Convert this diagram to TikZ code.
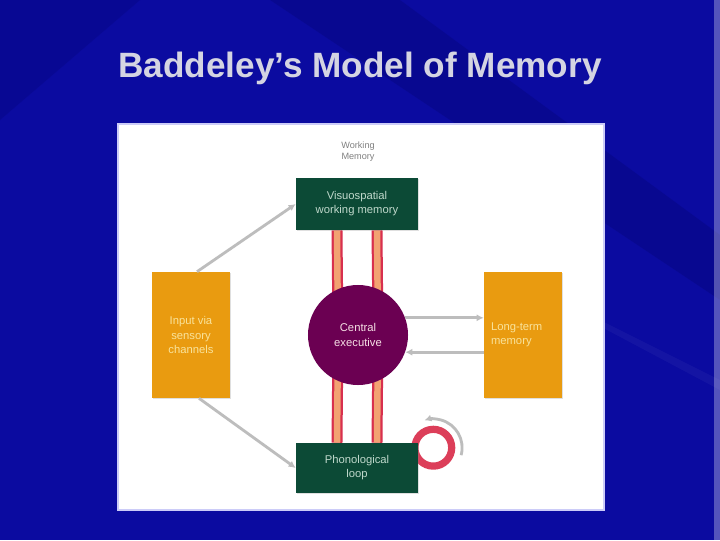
\documentclass[tikz,border=0pt]{standalone}
\usepackage{fontspec}
\setmainfont{Liberation Sans}
\usepackage{tikz}
\usetikzlibrary{arrows.meta, positioning, calc, backgrounds, shadows}
\definecolor{slideblue}{HTML}{0B0BA0}
\definecolor{slidedark}{HTML}{03036E}
\definecolor{titlegray}{HTML}{D4D4E2}
\definecolor{boxorange}{HTML}{E99B10}
\definecolor{boxgreen}{HTML}{0C4A36}
\definecolor{cepurple}{HTML}{6B0052}
\definecolor{pipered}{HTML}{D8304E}
\definecolor{pipeorange}{HTML}{F2A272}
\definecolor{linegray}{HTML}{BDBDBD}
\pgfdeclarelayer{slide}
\pgfsetlayers{slide,background,main}
\tikzset{
  boxtext/.style={font=\fontsize{8}{10}\selectfont, align=center, inner sep=2pt},
  greenbox/.style={boxtext, rectangle, fill=boxgreen, text=titlegray!90!green,
    minimum width=3.05cm, minimum height=1.3cm,
    drop shadow={shadow xshift=1pt, shadow yshift=-1pt, opacity=.25}},
  orangebox/.style={boxtext, rectangle, fill=boxorange, text=yellow!35!boxorange!40!white,
    minimum width=1.95cm, minimum height=3.15cm,
    drop shadow={shadow xshift=1pt, shadow yshift=-1pt, opacity=.25}},
  pipe/.style={draw=pipered, line width=1.6pt, double=pipeorange, double distance=4.6pt},
  link/.style={draw=linegray, line width=2pt, -{Latex[length=5pt, width=5pt]}},
}
\begin{document}
\begin{tikzpicture}[x=0.025cm, y=-0.025cm]
    \useasboundingbox (0,0) rectangle (720,540);
    \begin{pgfonlayer}{slide}
      % slide background
      \fill[slideblue] (0,0) rectangle (720,540);
      \fill[slidedark, opacity=.3] (270,0) -- (400,0) -- (720,235) -- (720,300) -- cycle;
      \fill[slidedark, opacity=.25] (0,0) -- (140,0) -- (0,120) -- cycle;
      \fill[white, opacity=.04] (560,300) -- (720,380) -- (720,390) -- (560,305) -- cycle;
      \fill[white, opacity=.3] (714,0) rectangle (720,540);
      % white panel
      \node[fill=white, draw=titlegray!60!blue!40, line width=1pt, inner sep=0pt,
        minimum width=12.15cm, minimum height=9.65cm] (panel) at (361,317) {};
    \end{pgfonlayer}
    \node[text=titlegray, font=\bfseries\fontsize{25}{30}\selectfont] (title) at (360,68) {Baddeley’s Model of Memory};
    \node[text=gray, font=\fontsize{6.5}{8}\selectfont, align=center] (wm) at (358,152) {Working\\Memory};

    % components
    \node[greenbox] (vsw) at (357,204) {Visuospatial\\working memory};
    \node[circle, fill=cepurple, text=pink!80!cepurple!30!white, minimum size=2.5cm,
      font=\fontsize{8}{10}\selectfont, align=center] (ce) at (358,335) {Central\\executive};
    \node[greenbox, minimum height=1.25cm] (pl) at (357,468) {Phonological\\loop};
    \node[orangebox] (inp) at (191,335) {Input via\\sensory\\channels};
    \node[orangebox, align=left, text width=1.6cm] (ltm) at (523,335) {Long-term\\memory\\[1.2em]};

    \begin{scope}[on background layer]
      % slave systems linked to the executive
      \foreach \dx in {-20, 20} {
        \draw[pipe] ($(vsw.south)+(\dx,0)$) -- ($(ce.center)+(\dx,0)$);
        \draw[pipe] ($(pl.north)+(\dx,0)$) -- ($(ce.center)+(\dx,0)$);
      }
      % rehearsal loop
      \coordinate (loopc) at ($(pl.north east)+(15,5)$);
      \draw[pipered!90!pink, line width=0.18cm] (loopc) circle[radius=0.46cm];
    \end{scope}
    \draw[linegray, line width=2pt, -{Latex[length=5pt, width=5pt]}]
      ($(loopc)+(-15:0.72cm)$) arc[start angle=-15, end angle=108, radius=0.72cm];

    % input and long-term memory
    \draw[link] ($(inp.north)+(6,0)$) -- (vsw.west);
    \draw[link] ($(inp.south)+(8,0)$) -- (pl.west);
    \draw[link] (ce.20) -- (ce.20 -| ltm.west);
    \draw[link] (ce.-20 -| ltm.west) -- (ce.-20);
  \end{tikzpicture}
\end{document}
